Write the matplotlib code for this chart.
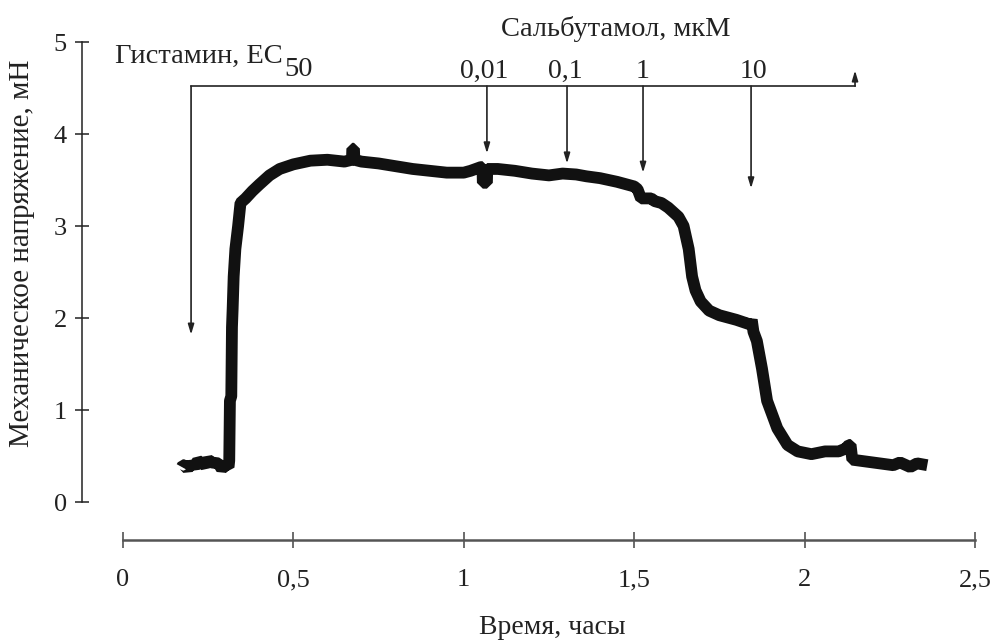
import numpy as np
import matplotlib
matplotlib.use('Agg')
import matplotlib.pyplot as plt

plt.rcParams['font.family'] = ['Liberation Serif', 'DejaVu Serif']

# trace: time (h), tension (mN)
time_h = [0.173, 0.176, 0.18, 0.19, 0.20, 0.21, 0.22, 0.24, 0.25, 0.26,
          0.28, 0.29, 0.30, 0.31,
          0.312, 0.314, 0.318, 0.320, 0.322, 0.325, 0.330, 0.338, 0.345,
          0.36, 0.38, 0.40, 0.43, 0.46, 0.50, 0.55, 0.60, 0.65,
          0.672, 0.673, 0.678, 0.679, 0.70, 0.75, 0.80, 0.85, 0.90, 0.95,
          1.00, 1.02, 1.05, 1.055, 1.056, 1.068, 1.069, 1.10, 1.15, 1.20,
          1.25, 1.29, 1.33, 1.36, 1.40, 1.45, 1.50, 1.51, 1.52, 1.55, 1.56,
          1.58, 1.60, 1.63, 1.645, 1.66, 1.67, 1.68, 1.695, 1.72, 1.75,
          1.80, 1.84, 1.845, 1.85, 1.86, 1.875, 1.89, 1.905, 1.92, 1.95,
          1.98, 2.02, 2.06, 2.10, 2.12, 2.13, 2.135, 2.14, 2.18, 2.22, 2.26,
          2.28, 2.31, 2.33, 2.36]
tension = [0.38, 0.40, 0.40, 0.36, 0.42, 0.38, 0.45, 0.40, 0.46, 0.43,
           0.42, 0.36, 0.40, 0.38,
           0.45, 1.10, 1.15, 1.90, 2.10, 2.45, 2.75, 3.00, 3.25,
           3.30, 3.38, 3.45, 3.55, 3.62, 3.67, 3.71, 3.72, 3.70,
           3.72, 3.84, 3.84, 3.72, 3.70, 3.68, 3.65, 3.62, 3.60, 3.58,
           3.58, 3.60, 3.64, 3.64, 3.47, 3.47, 3.62, 3.62, 3.60, 3.57,
           3.55, 3.57, 3.56, 3.54, 3.52, 3.48, 3.43, 3.40, 3.30, 3.30, 3.27,
           3.25, 3.20, 3.10, 3.00, 2.75, 2.45, 2.30, 2.18, 2.08, 2.03,
           1.98, 1.93, 1.98, 1.85, 1.75, 1.45, 1.10, 0.95, 0.80, 0.62,
           0.55, 0.52, 0.55, 0.55, 0.58, 0.62, 0.62, 0.46, 0.44, 0.42, 0.40,
           0.43, 0.38, 0.42, 0.40]

# drug additions
histamine_t = 0.2
histamine_tip = 1.82
salb_t = [1.068, 1.303, 1.526, 1.843]
salb_tip = [3.79, 3.68, 3.58, 3.41]
salb_labels = ['0,01', '0,1', '1', '10']
salb_label_x = [1.059, 1.297, 1.526, 1.849]
end_t = 2.148
bracket_y = 4.52

x_ticks = [0, 0.5, 1, 1.5, 2, 2.5]
x_ticklabels = ['0', '0,5', '1', '1,5', '2', '2,5']
y_ticks = [0, 1, 2, 3, 4, 5]

W, H = 993, 641
fig = plt.figure(figsize=(W / 100, H / 100), dpi=100)

# axes placed in pixel terms: y spine at px 82, x=0 at px 123, 2.5 at px 975
xl, xr = -0.12, 2.52
yb, yt = -0.413, 5.2
left_px = 82
right_px = 123 + xr * 340.8
bot_px = 540
top_px = 502 - yt * 92
ax = fig.add_axes([left_px / W, 1 - bot_px / H,
                   (right_px - left_px) / W, (bot_px - top_px) / H])
ax.set_xlim(xl, xr)
ax.set_ylim(yb, yt)

ax.plot(time_h, tension, color='#111111', lw=8.5, solid_joinstyle='bevel',
        solid_capstyle='butt')

for s in ['top', 'right']:
    ax.spines[s].set_visible(False)
ax.spines['left'].set_bounds(0, 5)
ax.spines['left'].set_color('#222222')
ax.spines['left'].set_linewidth(1.1)
ax.spines['bottom'].set_bounds(0, 2.5)
ax.spines['bottom'].set_color('#555555')
ax.spines['bottom'].set_linewidth(1.8)

ax.set_xticks(x_ticks)
ax.set_xticklabels(x_ticklabels)
ax.set_yticks(y_ticks)
ax.tick_params(axis='x', direction='inout', length=12, width=1.1,
               color='#444444', pad=15, labelsize=19, labelcolor='#222222')
ax.tick_params(axis='y', direction='inout', length=10, width=1.1,
               color='#222222', pad=6, labelsize=19, labelcolor='#222222')

fig.text(22 / W, 1 - 253 / H, 'Механическое напряжение, мН', rotation=90,
         ha='center', va='center', fontsize=21, color='#222222')
fig.text(552 / W, 1 - 628 / H, 'Время, часы', ha='center', va='center',
         fontsize=20, color='#222222')

# bracket with arrows
arrow_kw = dict(arrowstyle='-|>,head_length=0.6,head_width=0.18', lw=1.2,
                color='#222222', shrinkA=0, shrinkB=0)
ax.plot([histamine_t, end_t], [bracket_y, bracket_y], color='#222222',
        lw=1.2, clip_on=False)
ax.annotate('', xy=(histamine_t, histamine_tip), xytext=(histamine_t, bracket_y),
            arrowprops=arrow_kw, annotation_clip=False)
for t, tip in zip(salb_t, salb_tip):
    ax.annotate('', xy=(t, tip), xytext=(t, bracket_y),
                arrowprops=arrow_kw, annotation_clip=False)
ax.annotate('', xy=(end_t, 4.69), xytext=(end_t, bracket_y),
            arrowprops=arrow_kw, annotation_clip=False)

for lx, lab in zip(salb_label_x, salb_labels):
    ax.text(lx, 4.61, lab, ha='center', va='baseline', fontsize=20,
            color='#222222', clip_on=False)
ax.text(1.447, 5.07, 'Сальбутамол, мкМ', ha='center', va='baseline',
        fontsize=20.5, color='#222222', clip_on=False)

t1 = ax.text(-0.023, 4.77, 'Гистамин, EC', ha='left', va='baseline',
             fontsize=20.5, color='#222222', clip_on=False)
ax.annotate('50', xy=(1.0, 0.0), xycoords=t1, xytext=(1, -9),
            textcoords='offset points', ha='left', va='bottom',
            fontsize=20.5, color='#222222', annotation_clip=False)

fig.savefig('out.png', dpi=100, facecolor='white')
